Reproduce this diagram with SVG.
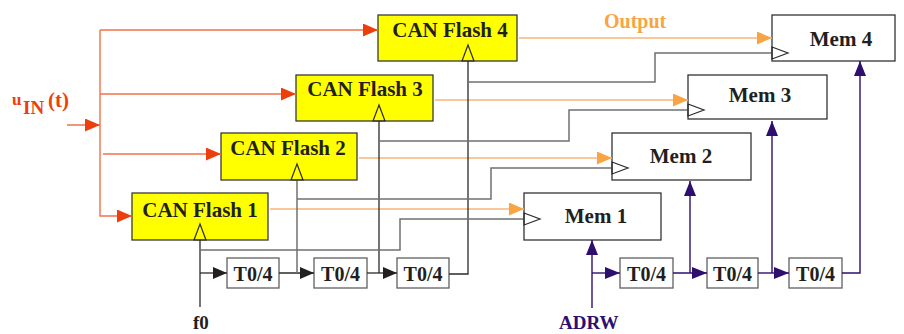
<svg xmlns="http://www.w3.org/2000/svg" width="904" height="334" viewBox="0 0 904 334">
<style>
text{font-family:"Liberation Serif","Times New Roman",serif;font-weight:bold;}
.lbl{font-size:21px;fill:#231f20;text-anchor:middle;}
.tl{font-size:20px;fill:#231f20;text-anchor:middle;}
.flash{fill:#ffff00;stroke:#3a3a3a;stroke-width:1.3;}
.mem{fill:#fff;stroke:#333;stroke-width:1.3;}
.tbox{fill:#fff;stroke:#606060;stroke-width:1.3;}
.blk{fill:none;stroke:#2a2a2a;stroke-width:1.3;}
.gry{fill:none;stroke:#707070;stroke-width:1.5;}
.org{fill:none;stroke:#f9b47a;stroke-width:1.5;}
.red{fill:none;stroke:#f2704a;stroke-width:1.4;}
.pur{fill:none;stroke:#2e0f6e;stroke-width:1.4;}
</style>
<defs>
<marker id="aBlk" markerUnits="userSpaceOnUse" viewBox="0 0 14 12" refX="14" refY="6" markerWidth="14" markerHeight="12" orient="auto"><path d="M0,0 L14,6 L0,12 z" fill="#231f20"/></marker>
<marker id="aRed" markerUnits="userSpaceOnUse" viewBox="0 0 15 13" refX="15" refY="6.5" markerWidth="15" markerHeight="13" orient="auto"><path d="M0,0 L15,6.5 L0,13 z" fill="#ec3f0c"/></marker>
<marker id="aOrg" markerUnits="userSpaceOnUse" viewBox="0 0 15 13" refX="15" refY="6.5" markerWidth="15" markerHeight="13" orient="auto"><path d="M0,0 L15,6.5 L0,13 z" fill="#f8a443"/></marker>
<marker id="aPur" markerUnits="userSpaceOnUse" viewBox="0 0 15 12" refX="15" refY="6" markerWidth="15" markerHeight="12" orient="auto"><path d="M0,0 L15,6 L0,12 z" fill="#2e0f6e"/></marker>
<marker id="aOpen" markerUnits="userSpaceOnUse" viewBox="-1 -1 18 14" refX="0" refY="6" markerWidth="18" markerHeight="14" orient="auto" overflow="visible"><path d="M0,0 L16,6 L0,12 z" fill="none" stroke="#2a2a2a" stroke-width="1.2"/></marker>
</defs>

<g id="node-flash4"><rect class="flash" x="378" y="15" width="139" height="46"/><text class="lbl" x="450" y="37">CAN Flash 4</text></g>
<g id="node-flash3"><rect class="flash" x="296" y="75" width="137" height="46"/><text class="lbl" x="365" y="96">CAN Flash 3</text></g>
<g id="node-flash2"><rect class="flash" x="221" y="133" width="136" height="47"/><text class="lbl" x="288" y="155">CAN Flash 2</text></g>
<g id="node-flash1"><rect class="flash" x="132" y="193" width="136" height="47"/><text class="lbl" x="200" y="217">CAN Flash 1</text></g>

<g id="node-mem4"><rect class="mem" x="772" y="15" width="123" height="46"/><text class="lbl" x="841" y="46">Mem 4</text></g>
<g id="node-mem3"><rect class="mem" x="688" y="75" width="139" height="44"/><text class="lbl" x="760" y="102">Mem 3</text></g>
<g id="node-mem2"><rect class="mem" x="612" y="133" width="139" height="47"/><text class="lbl" x="681" y="163">Mem 2</text></g>
<g id="node-mem1"><rect class="mem" x="524" y="193" width="137" height="47"/><text class="lbl" x="596" y="223">Mem 1</text></g>

<g id="node-t1"><rect class="tbox" x="227" y="258" width="52" height="30"/><text class="tl" x="253" y="281">T0/4</text></g>
<g id="node-t2"><rect class="tbox" x="314" y="258" width="53" height="30"/><text class="tl" x="340.5" y="281">T0/4</text></g>
<g id="node-t3"><rect class="tbox" x="397" y="258" width="52" height="30"/><text class="tl" x="423" y="281">T0/4</text></g>
<g id="node-t4"><rect class="tbox" x="620" y="258" width="53" height="30"/><text class="tl" x="646.5" y="281">T0/4</text></g>
<g id="node-t5"><rect class="tbox" x="707" y="258" width="51" height="30"/><text class="tl" x="732.5" y="281">T0/4</text></g>
<g id="node-t6"><rect class="tbox" x="789" y="258" width="53" height="30"/><text class="tl" x="815.5" y="281">T0/4</text></g>

<g id="node-uin">
<text x="12" y="105" font-size="17" fill="#ec3f0c">u</text>
<text x="23" y="114" font-size="19" fill="#ec3f0c">IN</text>
<text x="48" y="107" font-size="21" fill="#ec3f0c">(t)</text>
</g>
<g id="node-output"><text x="604" y="28" font-size="20" fill="#f7a541">Output</text></g>
<g id="node-f0"><text x="193" y="329" font-size="19" fill="#231f20">f0</text></g>
<g id="node-adrw"><text x="559" y="329" font-size="19" fill="#2e0f6e">ADRW</text></g>

<g id="connectors">
<path class="red" d="M67,125 H100" marker-end="url(#aRed)"/>
<path class="red" d="M100,30 V216 H132" marker-end="url(#aRed)"/>
<path class="red" d="M100,30 H378" marker-end="url(#aRed)"/>
<path class="red" d="M100,94 H296" marker-end="url(#aRed)"/>
<path class="red" d="M103,154 H221" marker-end="url(#aRed)"/>
<path class="org" d="M270,209 H524" marker-end="url(#aOrg)"/>
<path class="org" d="M359,158 H612" marker-end="url(#aOrg)"/>
<path class="org" d="M435,100 H688" marker-end="url(#aOrg)"/>
<path class="org" d="M519,38 H772" marker-end="url(#aOrg)"/>
<path class="blk" d="M200,307 V240" marker-end="url(#aOpen)"/>
<path class="blk" d="M200,273 H227" marker-end="url(#aBlk)"/>
<path class="blk" d="M279,273 H314" marker-end="url(#aBlk)"/>
<path class="gry" d="M297,273 V180" marker-end="url(#aOpen)"/>
<path class="blk" d="M367,273 H397" marker-end="url(#aBlk)"/>
<path class="blk" d="M379,273 V121" marker-end="url(#aOpen)"/>
<path class="blk" d="M449,274 H468 V61" marker-end="url(#aOpen)"/>
<path class="gry" d="M200,250 H400 V219 H524" marker-end="url(#aOpen)"/>
<path class="gry" d="M297,199 H491 V168 H612" marker-end="url(#aOpen)"/>
<path class="gry" d="M379,141 H569 V110 H688" marker-end="url(#aOpen)"/>
<path class="gry" d="M468,82 H655 V53 H772" marker-end="url(#aOpen)"/>
<path class="pur" d="M592,308 V240" marker-end="url(#aPur)"/>
<path class="pur" d="M592,273 H620" marker-end="url(#aPur)"/>
<path class="pur" d="M673,273 H707" marker-end="url(#aPur)"/>
<path class="pur" d="M690,273 V181" marker-end="url(#aPur)"/>
<path class="pur" d="M758,273 H789" marker-end="url(#aPur)"/>
<path class="pur" d="M772,273 V121" marker-end="url(#aPur)" stroke="#7a62a8"/>
<path class="pur" d="M842,273 H860 V61" marker-end="url(#aPur)"/>
</g>
</svg>
